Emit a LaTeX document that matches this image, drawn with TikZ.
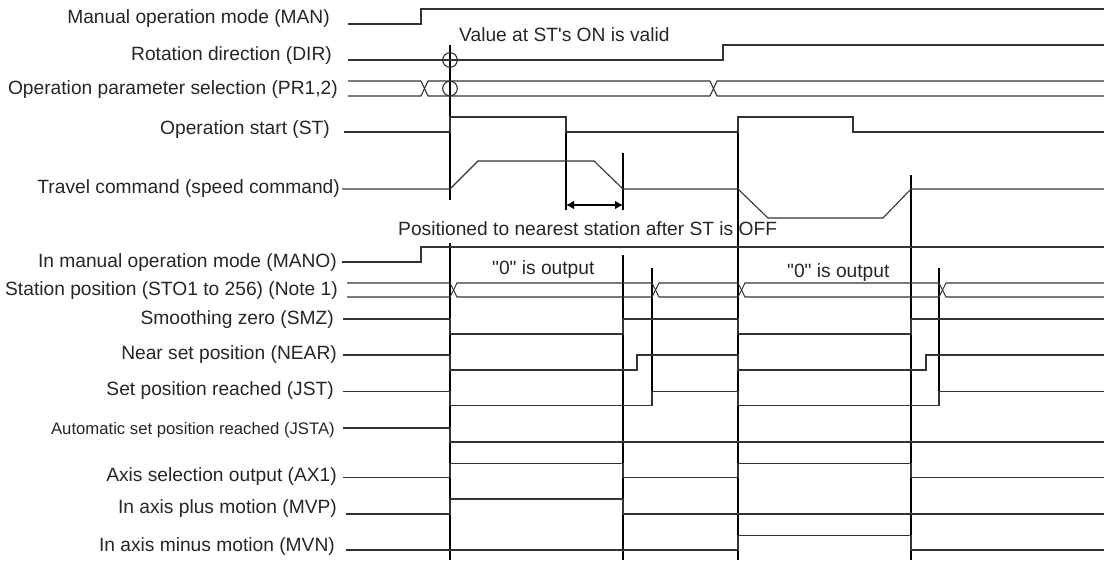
\documentclass[tikz,border=0pt]{standalone}
\usepackage{fontspec}
\setmainfont{Liberation Sans}[Ligatures=TeXOff]
\usetikzlibrary{arrows.meta}
\begin{document}
\begin{tikzpicture}[x=1pt,y=-1pt,
  sig/.style={line width=1.1pt, draw=black!80, line join=miter},
  vref/.style={line width=1.2pt, draw=black},
  lbl/.style={anchor=east, inner sep=0pt, text=black!85, font=\fontsize{19.2}{22}\selectfont},
  lblsmall/.style={lbl, font=\fontsize{16.7}{20}\selectfont},
  note/.style={anchor=west, inner sep=0pt, text=black!85, font=\fontsize{19.2}{22}\selectfont},
  dblarrow/.style={line width=2.6pt, {Latex[length=8pt,width=9pt]}-{Latex[length=8pt,width=9pt]}}]
\useasboundingbox (0,0) rectangle (1104,562);

% labels
\node[lbl] (man)  at (330,19)    {Manual operation mode (MAN)};
\node[lbl] (dir)  at (332,56)    {Rotation direction (DIR)};
\node[lbl] (pr)   at (338,90)    {Operation parameter selection (PR1,2)};
\node[lbl] (st)   at (330,130)   {Operation start (ST)};
\node[lbl] (trv)  at (340,189)   {Travel command (speed command)};
\node[lbl] (mano) at (337,263)   {In manual operation mode (MANO)};
\node[lbl] (sto)  at (338,291)   {Station position (STO1 to 256) (Note 1)};
\node[lbl] (smz)  at (334,319.5) {Smoothing zero (SMZ)};
\node[lbl] (near) at (337,355)   {Near set position (NEAR)};
\node[lbl] (jst)  at (334,390.5) {Set position reached (JST)};
\node[lblsmall] (jsta) at (335,430) {Automatic set position reached (JSTA)};
\node[lbl] (ax1)  at (337,477)   {Axis selection output (AX1)};
\node[lbl] (mvp)  at (337,508.5) {In axis plus motion (MVP)};
\node[lbl] (mvn)  at (335,547)   {In axis minus motion (MVN)};

% annotations
\node[note] (valid) at (459,35)  {Value at ST's ON is valid};
\node[note] (posn)  at (398,229) {Positioned to nearest station after ST is OFF};
\node[note] (zero1) at (492,270) {"0" is output};
\node[note] (zero2) at (787,273) {"0" is output};

% reference verticals
\draw[vref] (450,45) -- (450,200);
\draw[vref] (450,243) -- (450,560);
\draw[vref] (566,117) -- (566,210);
\draw[vref] (623,153) -- (623,210);
\draw[vref] (623,255) -- (623,560);
\draw[vref] (738,117) -- (738,560);
\draw[vref] (911,175) -- (911,560);
\draw[vref] (652,268) -- (652,406);
\draw[vref] (939,268) -- (939,406);

% MAN
\draw[sig] (348,24) -- (421,24) -- (421,9) -- (1104,9);
% DIR
\draw[sig] (348,60) -- (723,60) -- (723,45) -- (1104,45);
\draw[sig] (450,60) circle[radius=7.3pt];
% PR1,2 bus
\draw[sig] (348,81) -- (421,81) -- (428,96) -- (710,96) -- (717,81) -- (1104,81);
\draw[sig] (348,96) -- (421,96) -- (428,81) -- (710,81) -- (717,96) -- (1104,96);
\draw[sig] (450,88.5) circle[radius=7.3pt];
% ST
\draw[sig] (344,132) -- (450,132) -- (450,117) -- (566,117) -- (566,132) -- (738,132) -- (738,117) -- (853,117) -- (853,132) -- (1104,132);
% Travel command
\draw[sig] (342,189) -- (450,189) -- (478,161) -- (594,161) -- (623,189) -- (738,189) -- (768,218) -- (883,218) -- (911,189) -- (1104,189);
\draw[dblarrow] (566,205) -- (623,205);
% MANO
\draw[sig] (342,262) -- (421,262) -- (421,247) -- (1104,247);
% STO bus
\draw[sig] (347,283) -- (450,283) -- (457,297) -- (652,297) -- (659,283) -- (738,283) -- (745,297) -- (939,297) -- (946,283) -- (1104,283);
\draw[sig] (347,297) -- (450,297) -- (457,283) -- (652,283) -- (659,297) -- (738,297) -- (745,283) -- (939,283) -- (946,297) -- (1104,297);
% SMZ
\draw[sig] (343,319) -- (450,319) -- (450,334) -- (623,334) -- (623,319) -- (738,319) -- (738,334) -- (911,334) -- (911,319) -- (1104,319);
% NEAR
\draw[sig] (343,355) -- (450,355) -- (450,370) -- (637,370) -- (637,355) -- (738,355) -- (738,370) -- (926,370) -- (926,355) -- (1104,355);
% JST
\draw[sig] (343,391.5) -- (450,391.5) -- (450,405.7) -- (652,405.7) -- (652,391.5) -- (738,391.5) -- (738,405.7) -- (939,405.7) -- (939,391.5) -- (1104,391.5);
% JSTA
\draw[sig] (343,428) -- (450,428) -- (450,442) -- (1104,442);
% AX1
\draw[sig] (343,477.7) -- (450,477.7) -- (450,463.3) -- (623,463.3) -- (623,477.7) -- (738,477.7) -- (738,463.3) -- (911,463.3) -- (911,477.7) -- (1104,477.7);
% MVP
\draw[sig] (346,514) -- (450,514) -- (450,499) -- (623,499) -- (623,514) -- (1104,514);
% MVN
\draw[sig] (346,550) -- (738,550) -- (738,535.7) -- (911,535.7) -- (911,550) -- (1104,550);
\end{tikzpicture}
\end{document}
